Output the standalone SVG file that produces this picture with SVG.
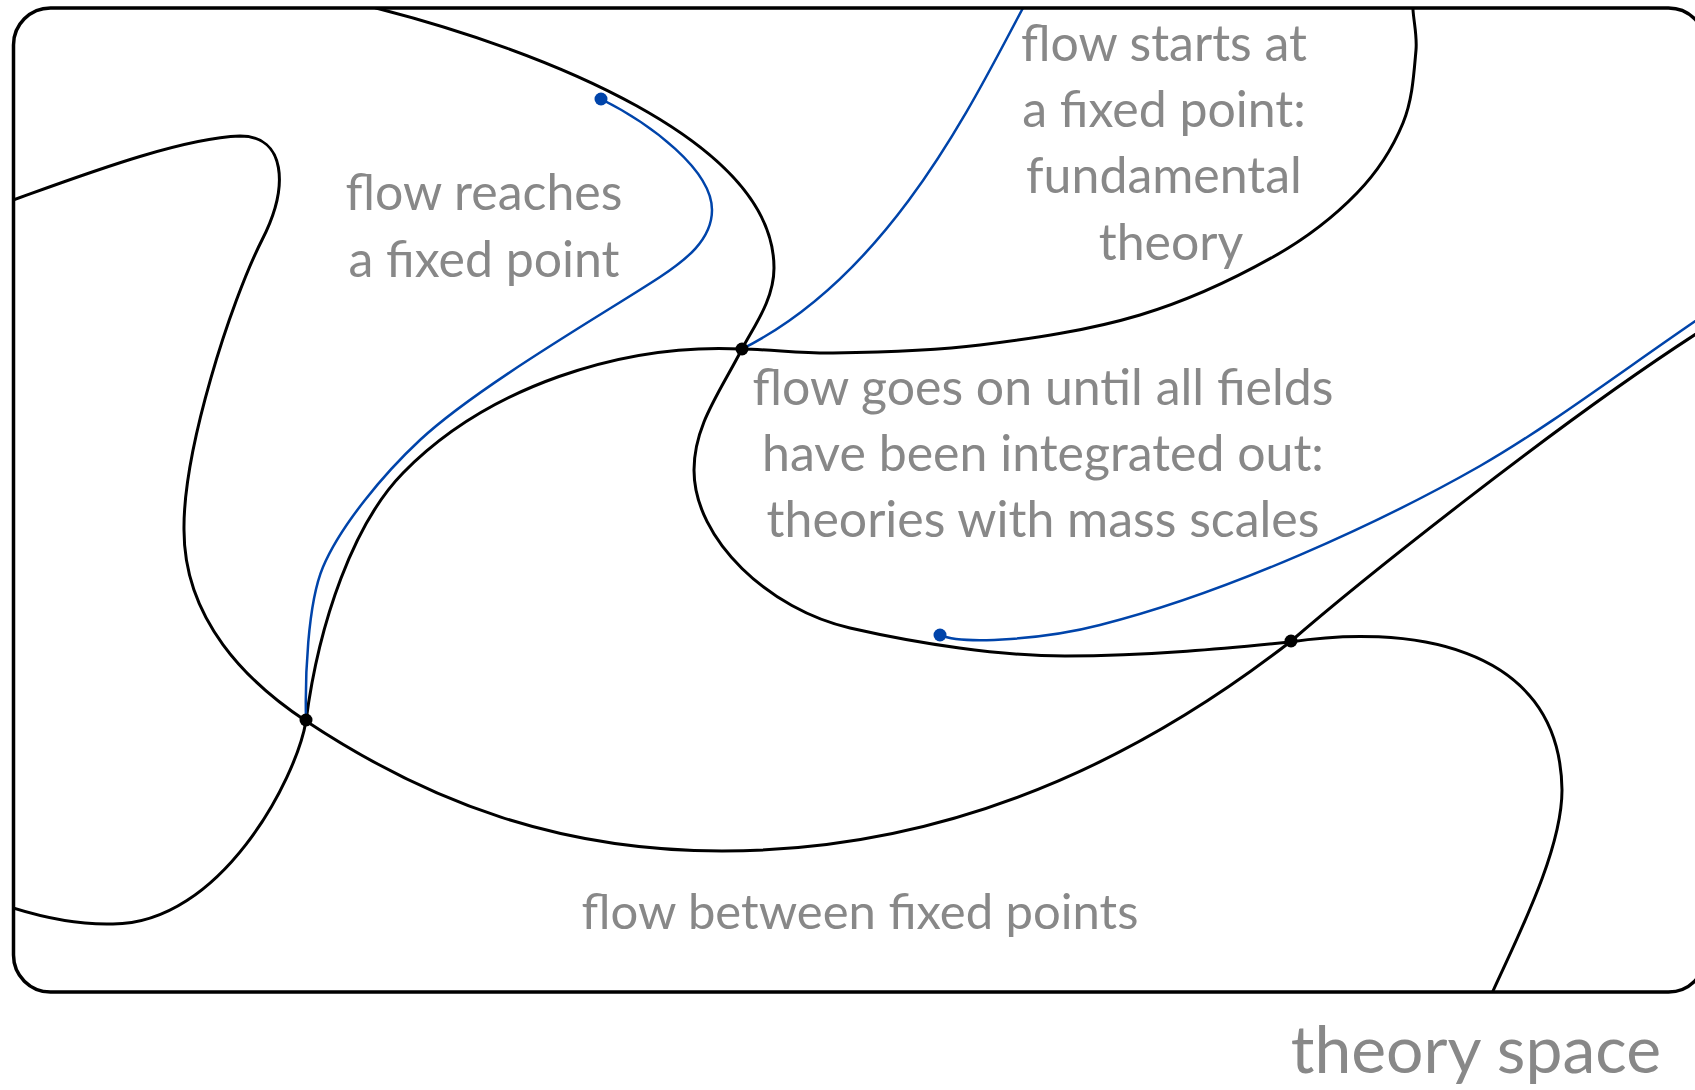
<svg xmlns="http://www.w3.org/2000/svg" width="1695" height="1090" viewBox="0 0 1695 1090">
<style>
.curve{fill:none;stroke:#000;stroke-width:3;stroke-linecap:round}
.flow{fill:none;stroke:#0044aa;stroke-width:2.5;stroke-linecap:round}
.fp{fill:#000}
.start{fill:#0044aa}
.lbl{font-family:Lato,"Noto Sans",sans-serif;font-size:50px;fill:#888888;text-anchor:middle}
</style>
<defs>
<clipPath id="box"><rect x="13.5" y="8" width="1692" height="984" rx="37"/></clipPath>
</defs>
<rect width="1695" height="1090" fill="#fff"/>
<g id="connectors" clip-path="url(#box)">
<path id="curveA" class="curve" d="M 5,203 L 13,200 C 80,176 180,138 240,136 C 285,136 290,185 262,240 C 230.5,302.3 183,450 184,530 C 184,620 247.6,682.4 306,721 C 431,804 562,851 722,851 C 1000,851 1200,712 1290,642 C 1350,590 1560,420 1710,325"/>
<path id="curveB" class="curve" d="M 5,905 L 13,908 C 45,918 80,925 113,924 C 220,924 296,780 306,721 C 319,621 354,523 403,473 C 487,387 622,343 742,349 C 772.4,349.6 802.6,353.5 833,353 C 882.1,352.2 931.3,351 980,345 C 1033.9,338.3 1088,330.6 1140,315 C 1186.4,301.1 1230.8,280.7 1273,257 C 1303.7,239.8 1332.5,218.3 1357,193 C 1376.4,173 1392.4,148.8 1403,123 C 1412.4,100.2 1413.8,74.6 1416,50 C 1417.2,36.7 1414,23.4 1413,10 L 1413,0"/>
<path id="curveC" class="curve" d="M 356,0 L 376,8 C 540,50 774,140 774,268 C 774,300 753.5,326.7 742,349 C 719,393.5 694,426 694,470 C 694,540 770,610 850,628 C 920,644 1000,656 1065,656 C 1150,656 1230,648 1290,642 C 1400,625 1560,640 1562,790 C 1562,850 1518,936 1493,991 L 1489,1000"/>
<path id="flow1" class="flow" d="M 601,99 C 651,124 712,170 712,210 C 712,240 685,260.5 660,277 C 610,310 478.4,385.6 420,440 C 383.5,474 340.6,525.6 323,567 C 307.4,603.8 305,680 306,719"/>
<path id="flow2" class="flow" d="M 742,349 C 892,274 975,97 1023,8 L 1028,0"/>
<path id="flow3" class="flow" d="M 940,635 C 965,646 1050,638 1100,625 C 1227,593 1380,523 1480,466 C 1550,426 1630,365 1710,311"/>
</g>
<rect id="frame" x="13.5" y="8" width="1692" height="984" rx="37" fill="none" stroke="#000" stroke-width="3.5"/>
<g id="fixed-point-left"><circle class="fp" cx="306" cy="720" r="6.5"/></g>
<g id="fixed-point-middle"><circle class="fp" cx="742" cy="349" r="6.5"/></g>
<g id="fixed-point-right"><circle class="fp" cx="1291" cy="641" r="6.5"/></g>
<g id="flow-start-1"><circle class="start" cx="601" cy="99" r="6.5"/></g>
<g id="flow-start-2"><circle class="start" cx="940" cy="635" r="6.5"/></g>
<g id="label-reaches">
<text class="lbl" x="484" y="210">flow reaches</text>
<text class="lbl" x="484" y="277">a fixed point</text>
</g>
<g id="label-starts">
<text class="lbl" x="1164" y="61">flow starts at</text>
<text class="lbl" x="1164" y="127">a fixed point:</text>
<text class="lbl" x="1164" y="193">fundamental</text>
<text class="lbl" x="1171" y="260">theory</text>
</g>
<g id="label-goes-on">
<text class="lbl" x="1043" y="405">flow goes on until all fields</text>
<text class="lbl" x="1043" y="471">have been integrated out:</text>
<text class="lbl" x="1043" y="537">theories with mass scales</text>
</g>
<g id="label-between">
<text class="lbl" x="860" y="929" style="font-size:49px">flow between fixed points</text>
</g>
<g id="label-theory-space">
<text class="lbl" x="1661" y="1073" style="font-size:66px;text-anchor:end">theory space</text>
</g>
</svg>
